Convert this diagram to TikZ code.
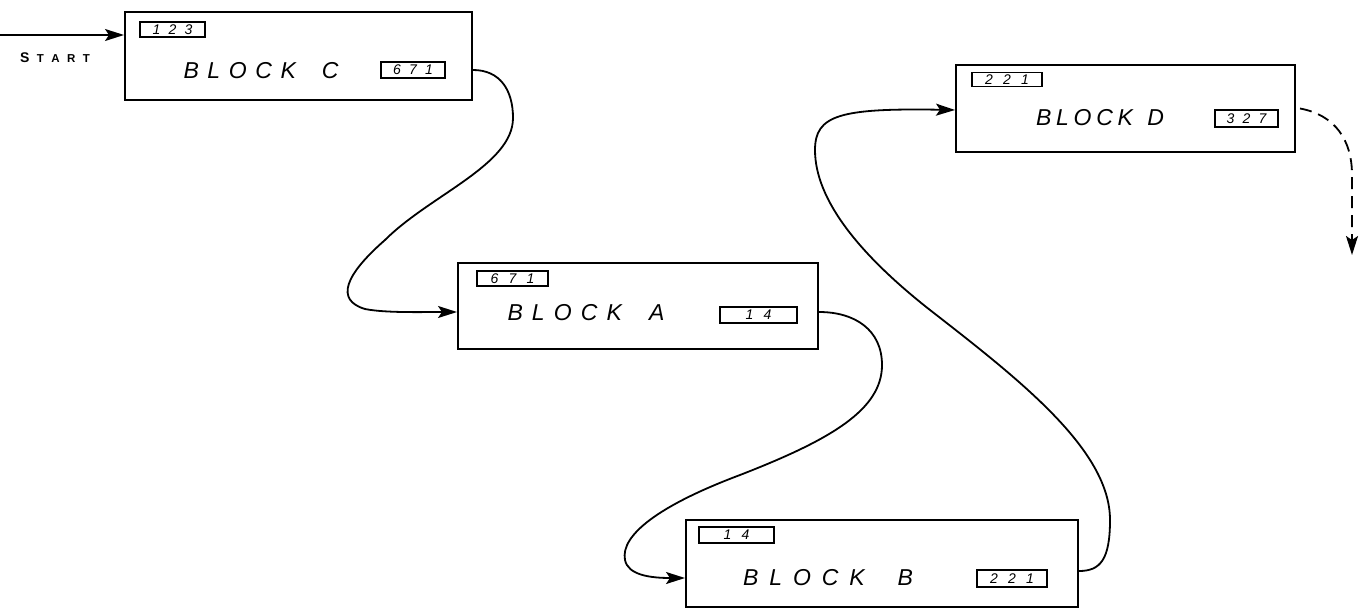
\documentclass[tikz,border=0pt]{standalone}
\usepackage{fontspec}
\setmainfont{Liberation Sans}
\usetikzlibrary{arrows.meta}

% spread a word evenly over a given width
\newcommand{\spread}[2]{\makebox[#1][s]{#2}}

\tikzset{
  block/.style={draw, line width=2pt, rectangle, inner sep=0pt},
  tag/.style={draw, line width=1.5pt, rectangle, inner sep=0pt,
              font=\itshape\fontsize{14}{14}\selectfont},
  title/.style={inner sep=0pt, font=\itshape\fontsize{23}{23}\selectfont},
  link/.style={line width=1.8pt, -{Stealth[length=19pt,width=12pt,inset=4pt]}},
  dashlink/.style={link, dash pattern=on 12pt off 7pt},
}

\begin{document}
\begin{tikzpicture}[x=1pt,y=-1pt]
\useasboundingbox (0,0) rectangle (1364,612);

% ---- Block C ----
\node[block, minimum width=347pt, minimum height=88pt] (C) at (298.5,56) {};
\node[tag, minimum width=65pt, minimum height=15pt] (Cin) at (172.5,29.5) {\spread{40pt}{1\hfil 2\hfil 3}};
\node[title] (Ct) at (261,71) {\spread{155pt}{B\hfil L\hfil O\hfil C\hfil K\hfil\hfil\hfil C}};
\node[tag, minimum width=64pt, minimum height=16pt] (Cout) at (413,70) {\spread{40pt}{6\hfil 7\hfil 1}};

% ---- Block A ----
\node[block, minimum width=360pt, minimum height=86pt] (A) at (638,306) {};
\node[tag, minimum width=71pt, minimum height=15pt] (Ain) at (512.5,278.5) {\spread{44pt}{6\hfil 7\hfil 1}};
\node[title] (At) at (586,313) {\spread{157pt}{B\hfil L\hfil O\hfil C\hfil K\hfil\hfil\hfil A}};
\node[tag, minimum width=77pt, minimum height=16pt] (Aout) at (758.5,315) {\spread{26pt}{1\hfil 4}};

% ---- Block B ----
\node[block, minimum width=392pt, minimum height=87pt] (B) at (882,563.5) {};
\node[tag, minimum width=75pt, minimum height=16pt] (Bin) at (736.5,535) {\spread{26pt}{1\hfil 4}};
\node[title] (Bt) at (828,578) {\spread{170pt}{B\hfil L\hfil O\hfil C\hfil K\hfil\hfil\hfil B}};
\node[tag, minimum width=70pt, minimum height=17pt] (Bout) at (1012,578.5) {\spread{44pt}{2\hfil 2\hfil 1}};

% ---- Block D ----
\node[block, minimum width=339pt, minimum height=87pt] (D) at (1125.5,108.5) {};
\node[tag, minimum width=70pt, minimum height=14pt] (Din) at (1007,79.5) {\spread{44pt}{2\hfil 2\hfil 1}};
\node[title] (Dt) at (1100,118) {\spread{128pt}{B\hfil L\hfil O\hfil C\hfil K\hfil\hfil\hfil D}};
\node[tag, minimum width=63pt, minimum height=17pt] (Dout) at (1246.5,118.5) {\spread{40pt}{3\hfil 2\hfil 7}};

% ---- start ----
\coordinate (st) at (0,35);
\node[inner sep=0pt, font=\bfseries] (start) at (55,58)
  {\spread{70pt}{{\fontsize{14}{14}\selectfont S}\hfil{\fontsize{11.5}{11.5}\selectfont T\hfil A\hfil R\hfil T}}};
\draw[link] (st) -- (st -| C.west);

% ---- C to A ----
\draw[link] ([yshift=-14pt]C.east)
  .. controls (500,70) and (513,90) .. (513,118)
  .. controls (513,165) and (430,195) .. (385,240)
  .. controls (345,275) and (335,300) .. (365,309)
  .. controls (385,313) and (420,312) .. ([yshift=-6pt]A.west);

% ---- A to B ----
\draw[link] ([yshift=-6pt]A.east)
  .. controls (855,312) and (882,330) .. (882,365)
  .. controls (882,410) and (830,440) .. (740,475)
  .. controls (660,505) and (620,535) .. (625,560)
  .. controls (628,575) and (650,578) .. ([yshift=-14.5pt]B.west);

% ---- B to D ----
\draw[link] ([yshift=-7.5pt]B.east)
  .. controls (1100,571) and (1110,560) .. (1110,520)
  .. controls (1110,450) and (1020,380) .. (930,310)
  .. controls (860,255) and (815,200) .. (815,150)
  .. controls (815,115) and (840,108) .. ([yshift=-1.5pt]D.west);

% ---- D onward ----
\coordinate (next) at (1352,255);
\draw[dashlink] ([xshift=4pt]D.east)
  .. controls (1335,115) and (1352,140) .. (1352,175) -- (next);

\end{tikzpicture}
\end{document}
